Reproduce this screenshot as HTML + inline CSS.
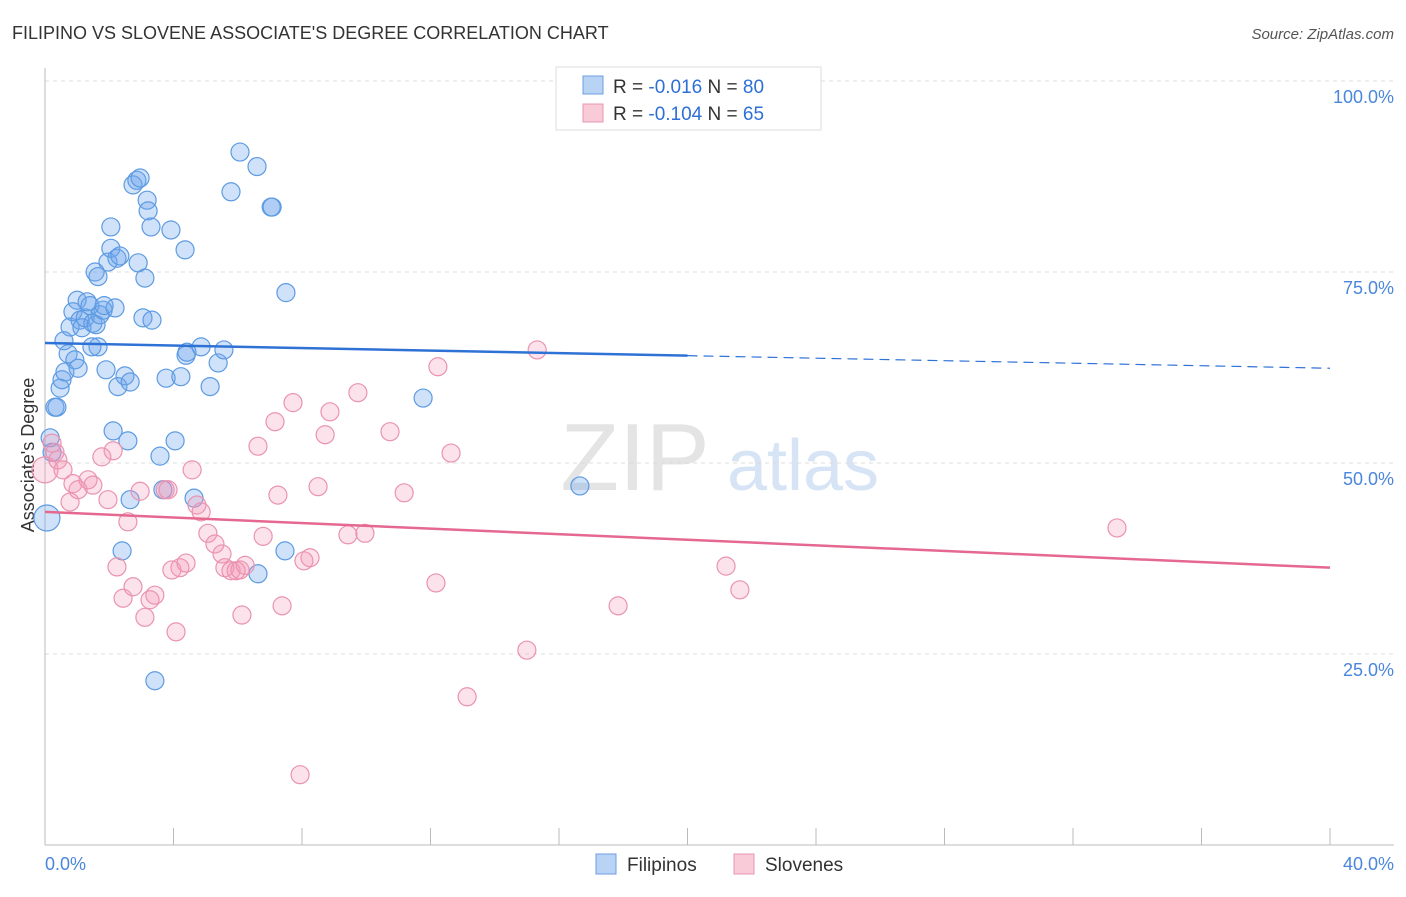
<!DOCTYPE html>
<html><head><meta charset="utf-8"><style>
body{margin:0;background:#fff;font-family:"Liberation Sans",sans-serif;}
svg text{font-family:"Liberation Sans",sans-serif;}
</style></head><body>
<svg id="chart" width="1406" height="892">
<text x="12" y="39" font-size="18" fill="#333">FILIPINO VS SLOVENE ASSOCIATE'S DEGREE CORRELATION CHART</text>
<text x="1394" y="39" font-size="15" fill="#555" text-anchor="end" font-style="italic">Source: ZipAtlas.com</text>
<text transform="translate(34,455) rotate(-90)" font-size="18" fill="#333" text-anchor="middle">Associate's Degree</text>
<g><text x="635" y="490" font-size="96" fill="#e4e4e4" text-anchor="middle" font-family="Liberation Serif,serif">ZIP</text><text x="803" y="490" font-size="72" fill="#d6e4f5" text-anchor="middle">atlas</text></g>
<g id="grid"></g><g id="axes"></g><g id="pts"></g><g id="trend"></g>
<g>
<rect x="556" y="67" width="265" height="63" fill="#fff" stroke="#ddd"/>
<rect x="583" y="76" width="20" height="18" fill="#b9d3f4" stroke="#6b9fe0"/>
<rect x="583" y="104" width="20" height="18" fill="#f9cad8" stroke="#e897b1"/>
<text x="613" y="93" font-size="19" fill="#333">R = <tspan fill="#2e6fd6">-0.016</tspan>   N = <tspan fill="#2e6fd6">80</tspan></text>
<text x="613" y="120" font-size="19" fill="#333">R = <tspan fill="#2e6fd6">-0.104</tspan>   N = <tspan fill="#2e6fd6">65</tspan></text>
</g>
<g>
<rect x="596" y="854" width="20" height="20" fill="#b9d3f4" stroke="#6b9fe0"/><text x="627" y="871" font-size="19" fill="#333">Filipinos</text>
<rect x="734" y="854" width="20" height="20" fill="#f9cad8" stroke="#e897b1"/><text x="765" y="871" font-size="19" fill="#333">Slovenes</text>
</g>
<text x="45" y="870" font-size="18" fill="#4a86dc">0.0%</text>
<text x="1394" y="870" font-size="18" fill="#4a86dc" text-anchor="end">40.0%</text>
</svg>
<script>
const yTicks=[100,75,50,25];
const yTickLabels=["100.0%","75.0%","50.0%","25.0%"];
const blueX=[0.06,.16,.22,.31,.37,.47,.53,.62,.72,.59,.78,.87,.93,1.03,1.0,1.09,1.15,1.25,1.31,1.4,1.49,1.59,1.65,1.46,1.71,1.81,1.9,1.96,2.05,2.05,2.18,2.24,2.33,1.56,1.65,1.84,2.12,2.27,2.49,2.58,2.65,2.74,2.86,2.96,3.18,3.21,3.3,2.9,3.11,3.05,3.33,3.77,3.92,4.23,4.36,4.39,4.42,4.86,5.39,5.57,5.14,5.79,6.07,6.6,7.04,7.07,7.5,4.05,3.58,2.65,3.67,4.64,2.4,3.42,6.63,7.47,11.77,16.65];
const blueY=[42.8,53.3,51.4,57.3,57.3,59.8,60.9,61.9,64.3,66.0,67.8,69.8,63.5,62.4,71.3,68.7,67.7,69.0,71.1,70.6,68.3,68.1,65.2,65.2,69.4,70.0,62.2,76.3,78.1,80.9,70.3,76.8,77.1,75.0,74.4,70.6,54.2,60.0,61.4,52.9,60.6,86.4,87.0,87.3,84.4,83.0,80.9,76.2,74.2,69.0,68.7,61.1,80.5,61.3,77.9,64.1,64.5,65.2,63.1,64.8,60.0,85.5,90.7,88.8,83.5,83.5,72.3,52.9,50.9,45.2,46.5,45.4,38.5,21.5,35.5,38.5,58.5,47.0];
const pinkX=[0,.22,.31,.40,.56,.78,.87,1.03,1.34,1.49,1.77,1.96,2.12,2.24,2.43,2.58,2.74,2.96,3.11,3.27,3.42,3.74,3.83,3.95,4.08,4.2,4.39,4.58,4.73,4.86,5.07,5.29,5.51,5.6,5.79,5.95,6.07,6.13,6.23,6.63,6.79,7.16,7.25,7.38,7.72,8.06,8.25,8.5,8.72,8.87,9.43,9.74,9.96,10.74,11.18,12.23,12.64,12.17,13.14,15.0,15.32,17.84,21.2,21.63,33.37,7.94];
const pinkY=[49.1,52.6,51.4,50.4,49.1,44.9,47.3,46.5,47.8,47.1,50.8,45.2,51.6,36.4,32.3,42.3,33.8,46.3,29.8,32.1,32.7,46.5,46.5,36.0,27.9,36.3,36.9,49.1,44.5,43.6,40.8,39.4,38.1,36.3,35.9,35.9,36.0,30.1,36.6,52.2,40.4,55.4,45.8,31.3,57.9,37.2,37.6,46.9,53.7,56.7,40.6,59.2,40.8,54.1,46.1,62.6,51.3,34.3,19.4,25.5,64.8,31.3,36.5,33.4,41.5,9.2];
const blueTrend=[65.7,62.4];
const pinkTrend=[43.6,36.3];
const NS="http://www.w3.org/2000/svg";
const X=v=>45+v/40*1285, Y=v=>845-v/100*764;
function mk(tag,at,parent){const e=document.createElementNS(NS,tag);for(const k in at)e.setAttribute(k,at[k]);document.getElementById(parent).appendChild(e);return e;}
yTicks.forEach((t,i)=>{
 const l=mk('line',{x1:45,x2:1394,y1:Y(t),y2:Y(t),stroke:'#ddd','stroke-dasharray':'4,4'},'grid');
 
 
 const tx=mk('text',{x:1394,y:Y(t)+22,'font-size':18,fill:'#4a86dc','text-anchor':'end'},'grid');
 tx.textContent=yTickLabels[i];
 
 
});
const ax=mk('line',{x1:45,x2:45,y1:68,y2:845,stroke:'#bbb'},'axes');


const bx=mk('line',{x1:45,x2:1394,y1:845,y2:845,stroke:'#bbb'},'axes');


for(let i=0;i<=10;i++){const t=mk('line',{x1:X(i*4),x2:X(i*4),y1:828,y2:845,stroke:'#bbb'},'axes');
 
 }
function pts(xs,ys,fill,stroke,name){xs.forEach((x,i)=>{const r=(x<0.1)?13:9;
 const c=mk('circle',{cx:X(x),cy:Y(ys[i]),r:r,fill:fill,stroke:stroke,'stroke-width':1.2},'pts');
 
 });}
pts(blueX,blueY,'rgba(110,165,235,0.32)','#5d9be2','filipino-point');
pts(pinkX,pinkY,'rgba(244,150,182,0.28)','#ea93b0','slovene-point');
const bm=blueTrend[0]+(blueTrend[1]-blueTrend[0])*0.5;
const b1=mk('line',{x1:X(0),y1:Y(blueTrend[0]),x2:X(20),y2:Y(bm),stroke:'#2f72d6','stroke-width':2.5},'trend');


const b2=mk('line',{x1:X(20),y1:Y(bm),x2:X(40),y2:Y(blueTrend[1]),stroke:'#2f72d6','stroke-width':1.2,'stroke-dasharray':'10,6'},'trend');


const p1=mk('line',{x1:X(0),y1:Y(pinkTrend[0]),x2:X(40),y2:Y(pinkTrend[1]),stroke:'#e4688f','stroke-width':2.5},'trend');


</script>
</body></html>
